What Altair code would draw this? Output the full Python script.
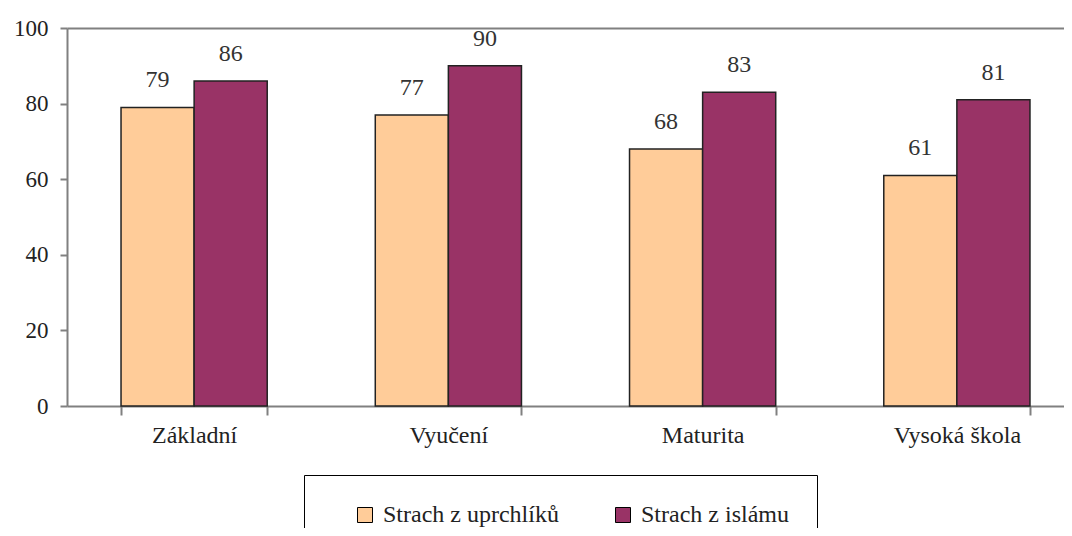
import altair as alt
import pandas as pd

categories = ["Základní", "Vyučení", "Maturita", "Vysoká škola"]
series = ["Strach z uprchlíků", "Strach z islámu"]
uprchliku = [79, 77, 68, 61]
islamu = [86, 90, 83, 81]
y_ticks = [0, 20, 40, 60, 80, 100]
colors = ["#FFCC99", "#993366"]

rows = []
for i, c in enumerate(categories):
    rows.append({"kat": c, "serie": series[0], "hodnota": uprchliku[i]})
    rows.append({"kat": c, "serie": series[1], "hodnota": islamu[i]})
df = pd.DataFrame(rows)

FONT = "'Liberation Serif', 'Times New Roman', 'DejaVu Serif', serif"
AX = "#808080"

x = alt.X(
    "kat:N", sort=categories, title=None,
    scale=alt.Scale(range=[0, 1017], paddingInner=0.425, paddingOuter=0.2125),
    axis=alt.Axis(labelAngle=0, tickBand="extent", tickSize=9, labelPadding=8,
                  domainColor=AX, domainWidth=2, tickColor=AX, tickWidth=2,
                  labelFont=FONT, labelFontSize=24, labelColor="#222"),
)
y = alt.Y(
    "hodnota:Q", title=None,
    scale=alt.Scale(domain=[0, 100], nice=False),
    axis=alt.Axis(values=y_ticks, tickSize=7, labelPadding=12,
                  domainColor=AX, domainWidth=2, tickColor=AX, tickWidth=2,
                  grid=True, gridColor=AX, gridWidth=2,
                  gridOpacity=alt.condition("datum.value == 100", alt.value(1), alt.value(0)),
                  labelFont=FONT, labelFontSize=23, labelColor="#222"),
)
xo = alt.XOffset("serie:N", sort=series, scale=alt.Scale(paddingInner=0, paddingOuter=0))

bars = alt.Chart(df).mark_bar(stroke="#222", strokeWidth=1.5).encode(
    x=x, y=y, xOffset=xo,
    color=alt.Color(
        "serie:N", sort=series,
        scale=alt.Scale(domain=series, range=colors),
        legend=alt.Legend(
            title=None, orient="none", legendX=237, legendY=447,
            direction="horizontal", strokeColor="#000", padding=28,
            symbolType="square", symbolSize=225, symbolStrokeColor="#000",
            symbolStrokeWidth=1, symbolOffset=21, labelOffset=6,
            columnPadding=31, labelFont=FONT, labelFontSize=24,
            labelColor="#222", labelLimit=400,
        ),
    ),
)

labels = alt.Chart(df).mark_text(
    baseline="bottom", dy=-15, font=FONT, fontSize=24, color="#333"
).encode(x=x, y=y, xOffset=xo, text="hodnota:Q")

chart = alt.layer(bars, labels).properties(
    width=997, height=378,
    autosize=alt.AutoSizeParams(type="none"),
    padding={"left": 59, "top": 20, "right": 0, "bottom": 122},
    background="white",
).configure_view(stroke=None)

chart.save("out.html", embed_options={"renderer": "svg", "actions": False})
